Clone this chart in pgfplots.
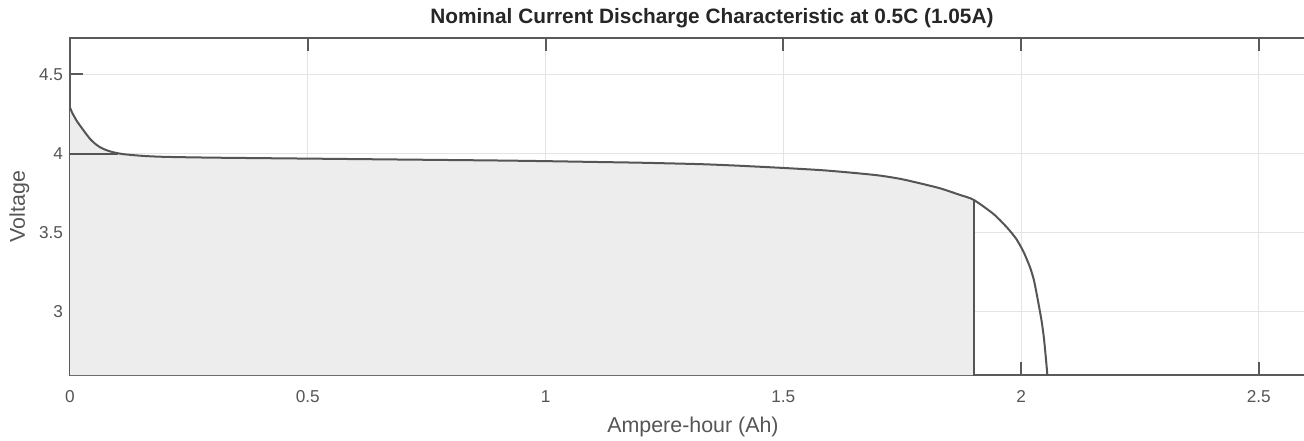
\documentclass[border=0pt]{standalone}
\usepackage{fontspec}
\setmainfont{Liberation Sans}
\usepackage{pgfplots}
\pgfplotsset{compat=1.18}
\usetikzlibrary{calc}

\definecolor{curve}{HTML}{555555}
\definecolor{axisc}{HTML}{5A5A5A}
\definecolor{gridc}{HTML}{E4E4E4}
\definecolor{shade}{HTML}{EDEDED}
\definecolor{labc}{HTML}{555555}

% discharge curve
\pgfplotstableread{
x y
0.000 4.290
0.005 4.255
0.010 4.228
0.015 4.202
0.021 4.177
0.030 4.140
0.042 4.093
0.052 4.064
0.063 4.040
0.076 4.022
0.091 4.008
0.110 3.997
0.133 3.990
0.160 3.984
0.200 3.979
0.300 3.974
0.500 3.968
0.700 3.962
0.900 3.956
1.000 3.952
1.100 3.947
1.200 3.942
1.325 3.933
1.400 3.924
1.500 3.909
1.580 3.895
1.640 3.880
1.700 3.862
1.746 3.840
1.790 3.810
1.830 3.780
1.870 3.740
1.900 3.708
1.942 3.618
1.970 3.534
1.990 3.460
2.005 3.380
2.019 3.280
2.027 3.200
2.033 3.110
2.038 3.030
2.043 2.945
2.047 2.860
2.050 2.776
2.055 2.610
2.057 2.500
}\discharge

\pgfplotstableread{
x y
0.000 4.290
0.005 4.255
0.010 4.228
0.015 4.202
0.021 4.177
0.030 4.140
0.042 4.093
0.052 4.064
0.063 4.040
0.076 4.022
0.091 4.008
0.110 3.997
0.133 3.990
0.160 3.984
0.200 3.979
0.300 3.974
0.500 3.968
0.700 3.962
0.900 3.956
1.000 3.952
1.100 3.947
1.200 3.942
1.325 3.933
1.400 3.924
1.500 3.909
1.580 3.895
1.640 3.880
1.700 3.862
1.746 3.840
1.790 3.810
1.830 3.780
1.870 3.740
1.900 3.708
}\used

\begin{document}
\begin{tikzpicture}
\begin{axis}[
    scale only axis,
    width=641.8pt, height=168.5pt,
    xmin=0, xmax=2.7,
    ymin=2.6, ymax=4.73,
    xtick={0,0.5,1,1.5,2,2.5},
    ytick={3,3.5,4,4.5},
    grid=major,
    major grid style={gridc, line width=0.5pt},
    axis line style={axisc, line width=1pt},
    tick style={axisc, line width=1pt},
    tick align=inside,
    major tick length=6.5pt,
    xticklabel style={font=\fontsize{8.6}{10}\selectfont, text=labc, yshift=-4pt},
    yticklabel style={font=\fontsize{8.6}{10}\selectfont, text=labc},
    /pgf/number format/assume math mode=true,
    xlabel={Ampere-hour (Ah)},
    ylabel={Voltage},
    xlabel style={font=\fontsize{10.7}{12}\selectfont, text=labc, yshift=-0.5pt, xshift=-9.5pt},
    ylabel style={font=\fontsize{10.7}{12}\selectfont, text=labc, yshift=-2pt},
    title={Nominal Current Discharge Characteristic at 0.5C (1.05A)},
    title style={font=\bfseries\fontsize{10.4}{12}\selectfont, text=black!85, yshift=-4.5pt},
    axis background/.style={fill=white},
]
\coordinate (sw) at (axis cs:0,2.6);
\coordinate (ne) at (axis cs:2.595,4.73);
\addplot[draw=none, fill=shade] table[x=x, y=y] {\used} \closedcycle;
\addplot[curve, line width=1pt] coordinates {(0,4.0) (0.1,4.0)};
\addplot[curve, line width=1pt] coordinates {(1.9,2.5) (1.9,3.708)};
\addplot[curve, line width=1pt, smooth, tension=0.4] table[x=x, y=y] {\discharge};
\end{axis}
\pgfresetboundingbox
\path ($(sw)+(-35pt,-32.5pt)$) rectangle ($(ne)+(0pt,19pt)$);
\end{tikzpicture}
\end{document}
